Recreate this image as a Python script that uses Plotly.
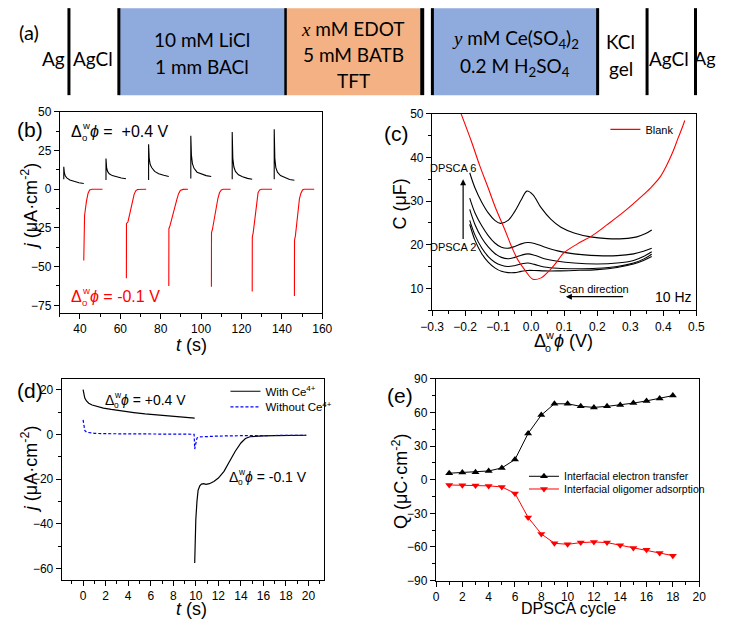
import plotly.graph_objects as go

# The page body keeps its default 8px margin, so the figure is 16px smaller than the window
OFF = 8
W, H = 730 - 2 * OFF, 633 - 2 * OFF
FONT = "Liberation Sans, Arial, sans-serif"
CAL = "Lato, Carlito, Calibri, sans-serif"

# ---------------- Panel (b) data: chronoamperometry ----------------
b_black_t = [
    [32.0, 32.0, 32.3, 32.8, 33.5, 35.0, 37.0, 39.5, 41.9],
    [52.9, 52.9, 53.2, 53.7, 54.5, 56.0, 58.0, 60.5, 62.8],
    [74.0, 74.0, 74.3, 74.8, 75.5, 77.0, 79.0, 81.5, 84.0],
    [94.9, 94.9, 95.2, 95.7, 96.5, 98.0, 100.0, 102.5, 105.0],
    [115.4, 115.4, 115.7, 116.2, 117.0, 118.5, 120.5, 123.0, 125.3],
    [136.2, 136.2, 136.5, 137.0, 137.8, 139.3, 141.3, 143.8, 146.2],
]
b_black_j = [
    [6.5, 14.5, 10.5, 8.5, 7.3, 6.0, 5.0, 4.2, 3.7],
    [6.0, 19.8, 14.0, 11.5, 10.0, 8.8, 7.9, 7.2, 6.8],
    [6.0, 29.0, 20.0, 16.0, 14.0, 11.5, 10.0, 9.0, 8.2],
    [7.0, 34.5, 22.0, 16.5, 13.5, 11.0, 9.8, 8.8, 8.2],
    [6.5, 37.0, 20.0, 14.5, 11.5, 9.3, 8.0, 7.0, 6.5],
    [6.5, 38.7, 20.0, 14.0, 11.0, 8.8, 7.5, 6.3, 5.8],
]
b_red_t = [
    [41.9, 41.95, 42.3, 43.2, 44.0, 44.8, 46.0, 51.2],
    [63.0, 63.05, 63.8, 65.0, 66.2, 66.8, 67.6, 68.5, 72.8],
    [84.0, 84.05, 84.6, 86.5, 88.0, 88.8, 89.7, 91.0, 93.5],
    [105.1, 105.15, 105.6, 107.0, 108.3, 109.1, 110.0, 111.0, 114.6],
    [125.3, 125.35, 125.8, 126.8, 127.6, 128.2, 129.0, 130.0, 135.1],
    [146.2, 146.25, 146.7, 147.7, 148.7, 149.4, 150.2, 151.0, 156.0],
]
b_red_j = [
    [-46.0, -20.5, -17.0, -8.0, -2.7, -0.5, 0.0, 0.0],
    [-57.5, -22.3, -21.0, -13.0, -6.0, -3.5, -1.0, -0.2, 0.0],
    [-62.5, -25.5, -23.5, -13.0, -6.5, -3.0, -0.8, -0.1, 0.0],
    [-63.0, -28.0, -26.0, -15.0, -6.0, -2.3, -0.4, 0.0, 0.0],
    [-66.0, -31.0, -28.0, -16.0, -6.5, -2.3, -0.4, 0.0, 0.0],
    [-69.0, -33.0, -30.0, -17.0, -6.0, -2.7, -0.5, 0.0, 0.0],
]

# ---------------- Panel (c) data: capacitance ----------------
c_blank_x = [-0.212, -0.18, -0.156, -0.13, -0.108, -0.08, -0.059, -0.04, -0.02, 0.005,
             0.03, 0.058, 0.08, 0.097, 0.14, 0.185, 0.23, 0.283, 0.33, 0.361,
             0.39, 0.41, 0.43, 0.445, 0.458, 0.465]
c_blank_y = [50.0, 43.5, 38.2, 33.0, 28.5, 23.5, 19.5, 16.5, 14.3, 12.1,
             12.4, 14.3, 16.3, 18.0, 20.2, 22.1, 24.6, 27.7, 30.8, 33.0,
             35.5, 38.2, 41.5, 44.5, 47.0, 48.5]
c_x6 = [-0.186, -0.17, -0.15, -0.13, -0.11, -0.093, -0.07, -0.05, -0.03, -0.013, 0.005,
        0.03, 0.06, 0.09, 0.13, 0.18, 0.23, 0.28, 0.32, 0.345, 0.365]
c_y6 = [36.5, 33.0, 29.8, 27.3, 25.6, 24.9, 25.6, 27.6, 30.3, 32.3, 31.5,
        28.5, 25.8, 24.0, 22.7, 21.8, 21.4, 21.4, 21.8, 22.5, 23.4]
c_x = [-0.186, -0.17, -0.15, -0.13, -0.11, -0.09, -0.07, -0.05, -0.03, -0.01,
       0.01, 0.04, 0.08, 0.13, 0.2, 0.26, 0.31, 0.34, 0.365]
c_y5 = [30.7, 27.3, 24.4, 22.1, 20.4, 19.4, 19.2, 19.6, 20.2, 20.5,
        20.3, 19.5, 18.6, 17.9, 17.5, 17.5, 17.9, 18.5, 19.2]
c_y4 = [28.1, 24.6, 21.6, 19.5, 18.0, 17.1, 16.8, 17.1, 17.6, 17.9,
        17.6, 16.8, 16.2, 15.8, 15.6, 15.8, 16.4, 17.3, 18.4]
c_y3 = [25.6, 22.2, 19.3, 17.3, 16.0, 15.3, 15.0, 15.2, 15.6, 15.8,
        15.5, 14.9, 14.6, 14.5, 14.6, 15.0, 15.8, 16.7, 17.8]
c_y2 = [24.7, 21.0, 18.0, 16.0, 14.7, 13.9, 13.6, 13.6, 13.9, 14.1,
        14.1, 14.0, 14.0, 14.1, 14.3, 14.8, 15.6, 16.4, 17.3]

# ---------------- Panel (d) data ----------------
d_with_t = [0, 0.05, 0.15, 0.3, 0.5, 0.8, 1.2, 1.8, 2.5, 3.5, 4.5, 5.5, 6.5, 7.5, 8.5, 9.9, None,
            9.9, 9.92, 10.0, 10.1, 10.2, 10.35, 10.5, 10.7, 10.9, 11.2, 11.6, 12.0, 12.5, 13.0,
            13.5, 14.0, 14.4, 14.8, 15.3, 16.0, 17.0, 18.0, 19.0, 19.8]
d_with_j = [20, 18.2, 16.3, 15, 14, 13.2, 12.5, 11.8, 11.2, 10.4, 9.8, 9.2, 8.7, 8.2, 7.8, 7.3, None,
            -57.5, -50, -38, -30, -25, -23, -22.2, -22, -22.3, -22, -21, -19.5, -16.5, -12,
            -7.5, -3.8, -1.8, -1.0, -0.7, -0.6, -0.5, -0.45, -0.4, -0.35]
d_without_t = [0, 0.05, 0.15, 0.3, 0.6, 1, 2, 4, 6, 8, 9.85,
               9.9, 10.0, 10.1, 10.3, 10.8, 12, 14, 16, 18, 19.8]
d_without_j = [6.5, 4.0, 1.8, 1.0, 0.7, 0.5, 0.35, 0.25, 0.2, 0.15, 0.1,
               -6.5, -3.0, -1.6, -1.1, -0.9, -0.7, -0.55, -0.45, -0.4, -0.35]

# ---------------- Panel (e) data ----------------
e_cycle = list(range(1, 19))
e_transfer = [5.8, 6.4, 6.7, 7.8, 10.5, 18.0, 41.3, 57.6, 67.7, 67.7, 65.4, 64.5, 65.4, 66.6, 68.3, 70.3, 72.4, 75.0]
e_adsorb = [-4.7, -4.9, -5.2, -5.5, -6.4, -12.2, -33.7, -48.3, -56.7, -57.6, -56.1, -55.5, -56.1, -58.4, -60.8, -62.5, -65.4, -67.7]


def px(x):
    return (x - OFF) / W


def py(y):
    return 1 - (y - OFF) / H


fig = go.Figure()

# panel (b)
for t, j in zip(b_black_t, b_black_j):
    fig.add_trace(go.Scatter(x=t, y=j, mode='lines', line=dict(color='black', width=1.1),
                             showlegend=False, xaxis='x', yaxis='y'))
for t, j in zip(b_red_t, b_red_j):
    fig.add_trace(go.Scatter(x=t, y=j, mode='lines', line=dict(color='red', width=1.1),
                             showlegend=False, xaxis='x', yaxis='y'))

# panel (c)
for yy in [c_y2, c_y3, c_y4, c_y5]:
    fig.add_trace(go.Scatter(x=c_x, y=yy, mode='lines', line=dict(color='black', width=1.1, shape='spline'),
                             showlegend=False, xaxis='x2', yaxis='y2'))
fig.add_trace(go.Scatter(x=c_x6, y=c_y6, mode='lines', line=dict(color='black', width=1.1, shape='spline'),
                         showlegend=False, xaxis='x2', yaxis='y2'))
fig.add_trace(go.Scatter(x=c_blank_x, y=c_blank_y, mode='lines', name='Blank',
                         line=dict(color='red', width=1.1, shape='spline'),
                         legend='legend', xaxis='x2', yaxis='y2'))

# panel (d)
fig.add_trace(go.Scatter(x=d_with_t, y=d_with_j, mode='lines', name='With Ce<sup>4+</sup>',
                         line=dict(color='black', width=1.2), connectgaps=False,
                         legend='legend2', xaxis='x3', yaxis='y3'))
fig.add_trace(go.Scatter(x=d_without_t, y=d_without_j, mode='lines', name='Without Ce<sup>4+</sup>',
                         line=dict(color='blue', width=1.2, dash='3px,2px'),
                         legend='legend3', xaxis='x3', yaxis='y3'))

# panel (e)
fig.add_trace(go.Scatter(x=e_cycle, y=e_transfer, mode='lines+markers', name='Interfacial electron transfer',
                         line=dict(color='black', width=1), marker=dict(symbol='triangle-up', size=7, color='black'),
                         legend='legend4', xaxis='x4', yaxis='y4'))
fig.add_trace(go.Scatter(x=e_cycle, y=e_adsorb, mode='lines+markers', name='Interfacial oligomer adsorption',
                         line=dict(color='red', width=1), marker=dict(symbol='triangle-down', size=7, color='red'),
                         legend='legend5', xaxis='x4', yaxis='y4'))

annotations = []
shapes = []


def text(x, y, s, size, color='black', family=FONT, xanchor='center', yanchor='middle', angle=0):
    annotations.append(dict(x=px(x), y=py(y), xref='paper', yref='paper', text=s, showarrow=False,
                            font=dict(size=size, color=color, family=family),
                            xanchor=xanchor, yanchor=yanchor, textangle=angle))


def delta_label(x, y, rest, size, color='black'):
    text(x, y, 'Δ', size, color, xanchor='left')
    dx = 0.66 * size
    text(x + dx, y - 0.36 * size, 'w', size * 0.6, color, xanchor='left')
    text(x + dx, y + 0.38 * size, 'o', size * 0.6, color, xanchor='left')
    text(x + 1.18 * size, y, rest, size, color, xanchor='left')


# ---------------- Panel (a): cell scheme ----------------
BLUE = '#8FAADC'
ORANGE = '#F4B183'
for x0, x1, col in [(110, 282, BLUE), (282, 421, ORANGE), (434, 604, BLUE)]:
    shapes.append(dict(type='rect', xref='paper', yref='paper', x0=px(x0), x1=px(x1), y0=py(90), y1=py(1),
                       fillcolor=col, line=dict(width=0), layer='below'))
for xv, wv in [(58.5, 3), (110, 3), (282, 2.5), (423, 4), (433.5, 3), (604, 3), (655, 3), (705, 3)]:
    shapes.append(dict(type='line', xref='paper', yref='paper', x0=px(xv), x1=px(xv), y0=py(90), y1=py(1),
                       line=dict(color='black', width=wv)))

SER = "<span style='font-family:Liberation Serif,Times New Roman,serif'><i>%s</i></span>"
AS = 19
text(17, 25, '(a)', 20, family=CAL)
text(43, 52, 'Ag', AS, family=CAL)
text(83, 52, 'AgCl', AS, family=CAL)
text(196, 33, '10 mM LiCl', AS, family=CAL)
text(196, 61, '1 mm BACl', AS, family=CAL)
text(352, 22, (SER % 'x') + ' mM EDOT', AS, family=CAL)
text(352, 48, '5 mM BATB', AS, family=CAL)
text(352, 75, 'TFT', AS, family=CAL)
text(519, 33, (SER % 'y') + ' mM Ce(SO<sub>4</sub>)<sub>2</sub>', AS, family=CAL)
text(519, 61, '0.2 M H<sub>2</sub>SO<sub>4</sub>', AS, family=CAL)
text(628, 35, 'KCl', AS, family=CAL)
text(628, 63, 'gel', AS, family=CAL)
text(678, 52, 'AgCl', AS, family=CAL)
text(715, 52, 'Ag', 18, family=CAL)

# ---------------- panel labels and titles ----------------
text(18, 125, '(b)', 21)
text(396, 129, '(c)', 21)
text(18, 392, '(d)', 21)
text(400, 397, '(e)', 21)

PHI = 'ϕ'
text(18, 204, '<i>j</i> (μA·cm<sup>-2</sup>)', 18, angle=-90)
text(185, 346, '<i>t</i> (s)', 18)
text(400, 201, 'C (μF)', 18, angle=-90)
delta_label(536, 342, '<i>%s</i> (V)' % PHI, 18)
text(18, 473, '<i>j</i> (μA·cm<sup>-2</sup>)', 18, angle=-90)
text(185, 616, '<i>t</i> (s)', 18)
text(400, 485, 'Q (μC·cm<sup>-2</sup>)', 18, angle=-90)
text(574, 615, 'DPSCA cycle', 16)

# panel (b) annotations
delta_label(59, 127, '<i>%s</i> =  +0.4 V' % PHI, 16)
delta_label(59, 296, '<i>%s</i> = -0.1 V' % PHI, 16, color='red')

# panel (d) annotations
delta_label(94, 402, '<i>%s</i> = +0.4 V' % PHI, 14)
delta_label(222, 481, '<i>%s</i> = -0.1 V' % PHI, 14)

# panel (c) annotations (data coordinates)
annotations.append(dict(x=-0.236, y=37.6, xref='x2', yref='y2', text='DPSCA 6', showarrow=False,
                        font=dict(size=11, family=FONT, color='black')))
annotations.append(dict(x=-0.236, y=19.5, xref='x2', yref='y2', text='DPSCA 2', showarrow=False,
                        font=dict(size=11, family=FONT, color='black')))
annotations.append(dict(x=-0.206, y=35.0, ax=-0.206, ay=21.0, xref='x2', yref='y2', axref='x2', ayref='y2',
                        text='', showarrow=True, arrowhead=2, arrowsize=1, arrowwidth=1.2, arrowcolor='black'))
annotations.append(dict(x=0.105, y=8.1, ax=0.283, ay=8.1, xref='x2', yref='y2', axref='x2', ayref='y2',
                        text='', showarrow=True, arrowhead=2, arrowsize=1, arrowwidth=1.2, arrowcolor='black'))
annotations.append(dict(x=0.19, y=9.9, xref='x2', yref='y2', text='Scan direction', showarrow=False,
                        font=dict(size=11, family=FONT, color='black')))
annotations.append(dict(x=0.43, y=7.9, xref='x2', yref='y2', text='10 Hz', showarrow=False,
                        font=dict(size=14, family=FONT, color='black')))

axis_common = dict(showline=True, linecolor='black', linewidth=1, mirror=True, ticks='outside', ticklen=5,
                   tickwidth=1, tickcolor='black', showgrid=False, zeroline=False,
                   tickfont=dict(size=12, family=FONT, color='black'))


def minor(d, t0=0):
    return dict(ticks='outside', ticklen=3, tickwidth=1, tickcolor='black', dtick=d, tick0=t0, showgrid=False)


def leg(x, y, size):
    return dict(x=px(x), y=py(y), xanchor='left', yanchor='middle', bgcolor='rgba(0,0,0,0)',
                font=dict(size=size, family=FONT, color='black'), itemwidth=30, tracegroupgap=0)


fig.update_layout(
    width=W, height=H, margin=dict(l=0, r=0, t=0, b=0),
    paper_bgcolor='white', plot_bgcolor='white',
    font=dict(family=FONT, color='black'),
    annotations=annotations, shapes=shapes,
    xaxis=dict(domain=[px(49), px(320)], range=[30, 160.05], dtick=20, tick0=0, anchor='y',
               minor=minor(10), **axis_common),
    yaxis=dict(domain=[py(313), py(107)], range=[-80, 50.05], dtick=25, tick0=0, anchor='x',
               minor=minor(12.5), **axis_common),
    xaxis2=dict(domain=[px(433), px(706)], range=[-0.3005, 0.5005], dtick=0.1, tick0=0, tickformat='.1f',
                anchor='y2', minor=minor(0.05), **axis_common),
    yaxis2=dict(domain=[py(310), py(109)], range=[5, 50.05], dtick=10, tick0=0, anchor='x2',
                minor=minor(5), **axis_common),
    xaxis3=dict(domain=[px(51), px(322)], range=[-1.9, 21.4], dtick=2, tick0=0, anchor='y3',
                minor=minor(1), **axis_common),
    yaxis3=dict(domain=[py(586), py(380)], range=[-65, 25], dtick=20, tick0=0, anchor='x3',
                minor=minor(10), **axis_common),
    xaxis4=dict(domain=[px(437), px(709)], range=[-0.02, 20.02], dtick=2, tick0=0, anchor='y4',
                minor=minor(1), **axis_common),
    yaxis4=dict(domain=[py(587), py(380)], range=[-90.2, 90.2], dtick=30, tick0=0, anchor='x4',
                minor=minor(15), **axis_common),
    legend=leg(612, 125, 11),
    legend2=leg(220, 393, 11.5),
    legend3=leg(220, 409, 11.5),
    legend4=leg(528, 480, 10.5),
    legend5=leg(528, 493, 10.5),
)

fig.write_html("out.html", config={'displayModeBar': False})
